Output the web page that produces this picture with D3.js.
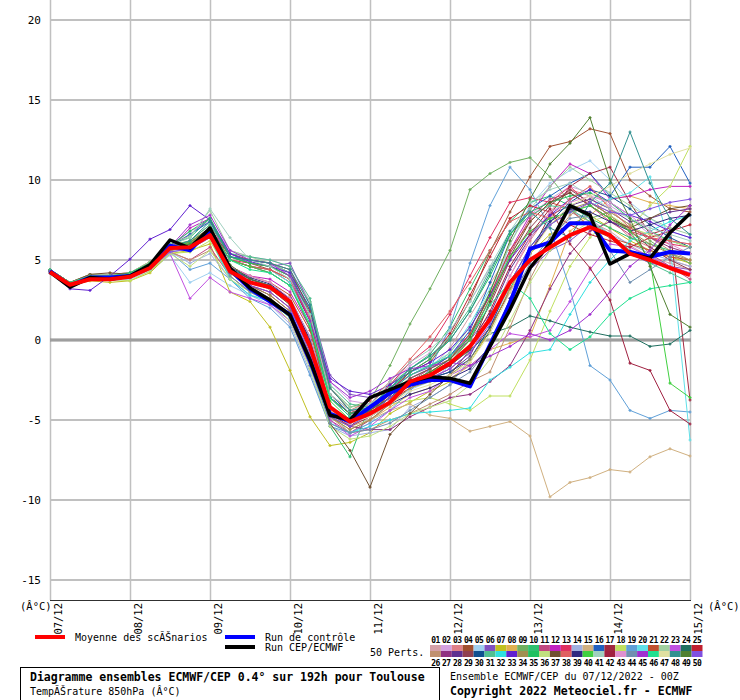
<!DOCTYPE html>
<html><head><meta charset="utf-8">
<script src="https://cdn.jsdelivr.net/npm/d3@7"></script>
<style>
html,body{margin:0;padding:0;background:#fff;}
svg{display:block;}
text{font-family:"DejaVu Sans Mono","Liberation Mono",monospace;fill:#000;}
</style></head><body>
<svg id="chart" width="740" height="700"></svg>
<script>
// ---------- DATA ----------
const hours = [0,6,12,18,24,30,36,42,48,54,60,66,72,78,84,90,96,102,108,114,120,126,132,138,144,150,156,162,168,174,180,186,192];
const dayLabels = ["07/12","08/12","09/12","10/12","11/12","12/12","13/12","14/12","15/12"];
const dayHours = [0,24,48,72,96,120,144,168,192];
const yTicks = [20,15,10,5,0,-5,-10,-15];

const meanValues    = [4.25,3.45,3.8,3.8,3.95,4.5,5.75,5.8,6.55, 4.3,3.6,3.3,2.4, -0.4,-4.2,-5.1,-4.6,-3.9,-2.6,-2.2,-1.45,-0.4,1.3,3.6,5.0,5.8,6.55,7.05,6.55,5.4,5.0,4.5,4.05];
const controlValues = [4.3,3.4,3.9,3.9,4.0,4.6,5.9,5.6,6.9, 4.4,3.2,2.4,1.6, -1.3,-4.6,-5.1,-4.2,-3.3,-2.8,-2.5,-2.5,-2.9,-0.3,2.3,5.7,6.1,7.3,7.3,5.6,5.5,5.2,5.5,5.4];
const hresValues    = [4.25,3.3,3.9,3.8,4.0,4.7,6.25,5.75,7.0, 4.5,3.25,2.5,1.55, -1.25,-4.7,-5.0,-3.6,-3.1,-2.6,-2.3,-2.4,-2.7,-0.4,1.9,4.5,6.05,8.4,7.8,4.75,5.4,5.1,6.7,7.9];

const member01 = [4.2,3.6,4.0,3.9,4.1,4.8,5.9,6.2,7.0, 5.0,4.6,4.4,3.8,1.4, -3.4,-4.4,-4.8,-3.5,-2.4,-1.8,-0.5,1.5,3.5,5.5,6.8,7.6,8.0,7.4,6.8,5.9,5.2,4.8,4.4];
const member02 = [4.3,3.4,3.8,3.9,4.0,4.5,5.8,6.8,7.4, 5.6,5.2,5.0,4.6,2.4, -2.6,-3.8,-4.0,-2.8,-1.6,-0.8,0.5,2.4,4.5,6.4,7.8,8.8,9.6,9.2,8.4,7.6,6.6,6.2,6.0];
const member03 = [4.4,3.5,3.9,4.0,4.1,4.7,5.6,5.9,6.8, 4.6,3.6,3.2,2.2,-0.6, -4.3,-5.2,-4.6,-3.8,-2.8,-2.3,-1.6,-0.6,1.2,4.0,6.2,8.0,9.4,9.0,7.6,6.4,5.8,5.0,4.6];
const member04 = [4.3,3.6,4.1,4.1,4.2,4.9,5.8,6.0,7.0, 5.2,4.8,4.4,3.6,1.2, -3.6,-4.6,-4.2,-3.2,-2.0,-1.4,0.2,2.5,5.5,8.0,10.2,12.1,12.4,13.2,12.9,10.0,9.0,8.2,8.0];
const member05 = [4.2,3.3,3.8,3.7,3.8,4.3,5.3,3.6,4.2, 3.4,2.8,2.5,1.4,-1.2, -4.6,-5.8,-5.2,-3.9,-3.1,-2.6,-1.6,0.4,2.4,6.0,8.4,9.8,10.6,11.2,10.0,8.6,7.6,6.8,6.4];
const member06 = [4.2,3.5,3.9,3.9,4.1,4.8,5.9,6.6,7.6, 5.4,4.8,4.6,4.8,2.2, -2.2,-3.4,-3.6,-3.0,-2.2,-1.7,-1.0,0.0,1.6,3.2,4.4,5.6,6.2,7.2,6.6,5.4,4.8,4.6,4.4];
const member07 = [4.3,3.4,3.7,3.6,3.7,4.2,5.4,5.6,6.0, 3.0,2.4,0.8,-1.9,-4.8, -6.6,-6.4,-5.8,-4.6,-3.9,-3.2,-2.6,-1.4,0.6,3.2,5.4,6.6,7.2,7.8,7.0,6.2,5.6,5.2,4.8];
const member08 = [4.3,3.6,4.0,4.0,4.1,4.6,5.6,5.9,6.9, 4.2,3.2,2.6,1.6,-0.8, -4.8,-5.6,-5.0,-4.2,-3.4,-3.0,-2.4,-1.6,-0.6,-0.2,0.2,3.4,6.8,7.8,8.8,9.0,8.6,8.4,8.2];
const member09 = [4.3,3.5,3.9,4.0,4.1,4.7,5.9,6.2,7.2, 5.2,5.0,4.8,4.2,2.0, -3.0,-4.2,-3.8,-1.6,1.0,3.2,5.6,9.4,10.4,11.1,11.4,10.2,8.6,7.6,8.0,7.2,6.2,5.4,4.8];
const member10 = [4.4,3.6,4.0,4.0,4.2,4.8,6.0,6.4,7.6, 5.2,4.8,4.6,4.0,1.8, -5.4,-7.3,-4.0,-2.8,-1.8,-0.9,0.8,3.2,5.6,7.4,8.6,9.0,8.4,7.6,7.0,6.4,6.0,5.6,5.4];
const member11 = [4.2,3.4,3.8,3.8,3.9,4.5,5.5,5.0,5.8, 4.0,3.0,2.4,1.2,-1.6, -5.0,-5.8,-5.0,-4.0,-2.6,-1.8,-1.0,0.2,2.6,5.4,7.6,8.8,9.2,8.4,7.4,6.6,5.4,4.6,3.8];
const member12 = [4.3,3.5,3.9,3.9,4.0,4.6,5.7,7.0,7.6, 4.6,4.0,3.8,3.0,0.8, -4.2,-5.0,-4.4,-3.2,-2.2,-1.6,-1.0,0.4,2.8,5.6,7.8,9.6,11.0,10.4,8.8,9.0,9.4,9.6,9.6];
const member13 = [4.4,3.6,4.0,4.1,4.2,4.8,5.9,6.1,7.0, 5.0,4.8,4.6,4.0,1.6, -3.6,-4.6,-4.0,-2.8,-1.4,-0.4,1.6,4.0,6.4,8.6,8.9,8.6,9.6,8.4,7.6,6.8,6.4,6.0,5.8];
const member14 = [4.2,3.4,3.8,3.8,3.9,4.4,5.5,4.8,5.4, 3.8,2.8,2.2,1.0,-2.0, -5.4,-6.0,-5.8,-5.6,-4.2,-3.6,-2.8,-1.2,0.8,3.4,5.6,7.2,8.0,7.6,6.6,6.0,5.4,5.0,4.6];
const member15 = [4.3,3.5,3.9,3.9,4.0,4.5,5.6,5.9,6.6, 4.4,3.6,3.2,2.4,-0.4, -4.6,-5.4,-5.0,-4.4,-4.0,-4.7,-4.9,-5.7,-5.4,-5.1,-6.0,-9.8,-8.9,-8.6,-8.1,-8.25,-7.3,-6.8,-7.25];
const member16 = [4.3,3.5,3.9,3.9,4.1,4.7,5.8,6.6,7.4, 5.2,5.0,4.8,4.2,2.0, -3.4,-4.6,-4.4,-3.4,-2.4,-1.8,-1.0,0.6,3.6,6.6,8.2,9.0,9.8,10.4,9.0,10.8,10.8,12.1,9.8];
const member17 = [4.3,3.5,3.9,3.9,4.0,4.6,5.7,6.0,6.8, 4.2,3.4,2.8,1.8,-1.0, -4.8,-5.4,-4.8,-3.8,-3.0,-2.4,-1.8,-0.8,0.8,3.0,5.4,7.8,9.6,10.4,10.8,8.6,6.6,7.0,-3.75];
const member18 = [4.2,3.4,3.8,3.8,3.7,4.3,5.4,5.5,6.2, 4.0,3.0,2.6,1.6,-1.0, -4.8,-5.4,-4.6,-4.0,-3.8,-3.6,-4.0,-4.4,-3.5,-3.5,-1.25,1.8,4.6,6.4,7.6,7.0,8.4,9.6,12.1];
const member19 = [4.3,3.4,3.8,3.8,3.9,4.4,5.5,4.4,4.8, 3.8,2.6,2.0,0.8,-2.2, -5.4,-5.8,-5.2,-4.4,-3.2,-1.8,0.8,4.8,8.4,10.8,9.4,7.0,3.2,-1.6,-2.5,-4.4,-4.9,-4.4,-4.5];
const member20 = [4.4,3.6,4.0,4.0,4.2,4.8,5.8,6.0,6.9, 5.0,4.6,4.4,3.6,1.0, -3.6,-4.8,-4.2,-3.0,-2.0,-1.6,-0.8,1.0,3.2,5.2,6.6,7.6,8.0,8.4,8.8,9.2,10.2,6.0,-6.25];
const member21 = [4.3,3.5,3.9,3.9,4.0,4.6,5.7,5.9,6.6, 4.6,4.0,3.6,2.8,0.6, -4.2,-5.0,-4.6,-3.6,-2.6,-2.0,-1.2,0.4,2.8,5.6,7.4,8.6,8.2,7.0,6.4,6.0,5.6,5.2,5.0];
const member22 = [4.4,3.6,4.1,4.1,4.2,4.9,6.0,6.5,8.1, 5.6,5.2,4.8,4.2,2.4, -3.0,-4.2,-4.0,-3.2,-2.4,-1.8,-0.8,0.8,3.0,6.0,8.2,9.6,10.8,10.0,9.2,8.4,7.6,7.0,6.6];
const member23 = [4.2,3.4,3.8,3.8,3.9,4.4,5.4,2.6,3.9, 3.0,2.6,2.2,1.2,-1.6, -5.0,-6.0,-5.4,-4.4,-3.6,-3.2,-2.2,-1.6,-0.6,0.4,0.2,0.6,2.4,4.4,6.0,5.8,5.2,4.6,4.2];
const member24 = [4.3,3.5,3.9,3.9,4.0,4.6,5.7,5.9,6.7, 4.5,3.8,3.4,2.4,0.0, -4.2,-5.2,-4.6,-3.6,-2.6,-2.2,-1.6,-0.6,0.4,0.8,1.5,1.2,0.8,0.5,0.25,0.25,-0.4,-0.25,0.6];
const member25 = [4.3,3.5,3.9,3.9,4.1,4.7,5.8,6.1,7.0, 5.0,4.6,4.4,3.8,1.2, -3.6,-4.6,-4.2,-3.2,-2.0,-1.2,0.4,2.8,5.2,7.6,8.4,8.0,7.2,6.6,6.2,5.8,6.4,6.8,7.2];
const member26 = [4.2,3.4,3.8,3.8,3.9,4.5,5.5,5.0,5.6, 4.2,3.2,2.6,1.6,-1.2, -4.8,-5.8,-5.6,-5.0,-4.6,-4.0,-3.4,-2.6,-2.0,0.8,3.8,6.2,7.8,8.6,8.0,7.2,6.4,5.6,5.0];
const member27 = [4.3,3.5,3.9,3.9,4.0,4.6,5.6,5.8,6.6, 4.4,3.8,3.4,2.6,-0.2, -4.2,-5.4,-5.6,-5.6,-4.8,-4.2,-3.6,-3.4,-2.6,-1.6,0.6,3.2,5.4,6.8,7.4,7.0,6.4,5.8,5.4];
const member28 = [4.3,3.5,3.9,3.9,4.1,4.7,5.8,6.0,6.8, 5.0,4.6,4.2,3.4,0.8, -3.6,-4.8,-4.4,-3.4,-2.6,-2.4,-2.0,-1.0,1.6,4.4,6.4,7.8,8.4,8.8,8.2,7.4,7.6,8.0,8.2];
const member29 = [4.4,3.6,4.0,4.0,4.1,4.7,5.7,5.9,6.7, 5.4,5.0,4.8,4.4,1.8, -3.0,-4.4,-4.6,-3.4,-2.4,-1.8,-1.2,0.0,2.2,5.0,7.0,8.4,9.4,8.6,7.8,6.8,5.8,5.0,4.4];
const member30 = [4.3,3.5,3.9,3.9,4.0,4.6,5.7,5.9,6.7, 4.6,3.8,3.4,2.6,0.2, -4.2,-5.0,-4.6,-3.6,-2.8,-2.4,-2.0,-1.2,0.8,3.6,5.8,7.4,8.6,9.4,9.0,8.2,7.2,6.4,5.8];
const member31 = [4.3,3.5,3.9,4.0,4.1,4.7,5.8,6.2,7.2, 5.4,5.2,5.0,4.6,2.6, -2.8,-4.0,-4.2,-3.0,-1.8,-1.0,0.2,2.0,4.4,6.6,7.8,8.4,8.2,7.4,6.6,5.6,4.8,4.2,3.6];
const member32 = [4.2,3.4,3.8,3.8,3.9,4.4,5.5,5.7,6.4, 3.8,2.8,2.4,1.4,-1.4, -5.2,-5.8,-5.4,-5.0,-4.6,-4.5,-4.4,-4.25,-2.5,-1.7,-0.8,-0.6,1.6,3.6,5.0,6.2,6.8,7.4,7.8];
const member33 = [4.2,3.2,3.1,4.0,5.05,6.3,6.9,8.4,7.5, 5.4,4.9,4.6,4.2,1.6, -2.4,-3.2,-3.4,-2.8,-2.0,-1.4,-0.6,0.8,2.8,5.0,6.6,7.8,8.8,9.4,8.6,7.8,7.4,6.8,6.4];
const member34 = [4.3,3.5,3.9,3.9,4.0,4.6,5.6,5.8,6.5, 4.2,3.4,2.8,1.8,-1.0, -4.8,-5.6,-5.0,-4.0,-3.0,-2.6,-2.2,-1.2,0.6,3.2,5.6,7.2,8.2,8.6,7.8,6.8,6.0,5.4,5.0];
const member35 = [4.4,3.6,4.0,4.0,4.2,4.8,5.9,6.8,7.6, 5.2,4.8,4.6,4.0,1.6, -3.6,-4.6,-4.2,-3.0,-2.0,-1.2,0.0,1.8,4.0,6.6,8.0,8.6,9.0,9.2,8.6,7.6,6.8,6.2,5.8];
const member36 = [4.2,3.4,3.8,3.8,3.9,4.4,5.4,4.6,5.6, 3.8,3.0,2.4,1.2,-1.8, -5.4,-6.2,-6.0,-5.4,-4.6,-4.2,-3.8,-2.8,-1.2,1.2,3.6,5.6,6.6,7.4,7.8,7.0,6.6,6.2,5.8];
const member37 = [4.3,3.6,4.1,4.2,4.1,4.6,5.7,5.9,6.6, 4.5,3.6,3.2,2.2,-0.6, -5.2,-6.9,-9.2,-5.9,-4.6,-3.4,-2.2,-0.6,2.4,5.2,7.4,8.6,9.2,8.4,7.6,7.0,7.6,8.2,8.4];
const member38 = [4.4,3.6,4.0,4.0,4.1,4.7,5.8,6.0,6.9, 5.0,4.6,4.4,3.8,1.4, -3.4,-4.4,-3.8,-2.6,-1.2,0.2,1.8,3.6,5.6,7.4,8.0,7.6,8.8,9.6,8.2,7.0,6.4,6.2,6.0];
const member39 = [4.3,3.5,3.9,3.9,4.0,4.6,5.7,5.9,6.7, 4.6,3.9,3.5,2.6,0.0, -4.2,-5.0,-4.8,-4.0,-3.4,-3.0,-2.4,-1.8,-0.4,2.6,5.4,7.4,8.2,8.0,7.4,6.8,7.2,7.6,7.8];
const member40 = [4.3,3.5,3.9,3.9,4.0,4.6,5.8,6.1,7.0, 5.0,4.6,4.2,3.4,0.8, -3.8,-5.0,-4.6,-3.6,-2.6,-2.0,-1.4,0.0,2.6,5.2,6.8,7.6,8.0,8.4,7.6,6.8,5.0,-2.7,-3.6];
const member41 = [4.3,3.5,3.9,3.9,4.1,4.7,5.9,6.4,8.2, 6.4,5.0,4.6,3.8,1.6, -3.4,-4.4,-4.0,-2.6,-1.4,-0.6,0.6,2.4,4.6,6.8,8.6,9.4,9.8,9.0,8.2,7.6,7.0,6.6,6.2];
const member42 = [4.3,3.5,3.9,3.9,4.0,4.6,5.7,5.9,6.7, 4.2,3.4,3.0,2.0,-0.6, -4.6,-5.4,-4.4,-3.6,-2.8,-2.2,-1.6,-0.4,1.8,4.6,6.6,8.2,6.0,4.5,2.5,-1.45,-1.9,-4.4,-5.25];
const member43 = [4.2,3.4,3.8,3.8,3.9,4.5,5.5,5.7,6.4, 4.6,4.0,3.6,2.6,0.2, -4.2,-5.2,-4.8,-3.8,-2.8,-2.4,-1.8,-0.8,1.2,4.0,6.4,8.0,8.6,9.0,8.6,7.8,6.8,6.0,5.4];
const member44 = [4.3,3.5,3.9,3.9,4.0,4.6,5.7,5.9,6.6, 4.0,3.0,2.4,1.4,-1.6, -5.2,-5.8,-5.6,-5.2,-4.4,-3.6,-2.8,-2.0,-0.4,2.4,4.8,6.4,7.6,7.8,5.6,3.6,4.4,5.2,5.8];
const member45 = [4.3,3.5,3.9,3.9,4.0,4.6,5.8,7.2,7.8, 5.6,5.0,4.8,4.0,1.2, -2.6,-3.6,-3.2,-2.4,-1.8,-1.6,-1.4,-1.6,-1.0,-0.4,0.4,0.0,0.6,1.6,3.0,4.6,5.6,7.2,8.4];
const member46 = [4.4,3.6,4.0,4.0,4.1,4.7,5.8,6.0,6.8, 5.0,4.4,4.2,3.4,1.0, -3.6,-4.8,-4.2,-3.2,-2.2,-1.6,-1.0,0.2,2.2,3.6,2.6,0.4,-0.6,0.2,1.6,2.6,3.2,3.4,3.6];
const member47 = [4.3,3.5,3.9,3.9,4.0,4.6,5.7,5.9,6.6, 4.4,3.6,3.2,2.4,-0.4, -4.4,-5.2,-4.8,-4.0,-3.2,-2.8,-2.2,-1.4,0.4,3.0,5.4,7.2,8.4,9.0,9.6,10.4,11.0,11.6,12.0];
const member48 = [4.3,3.5,3.9,3.9,4.0,4.6,5.8,6.2,7.4, 5.2,5.0,4.8,4.4,2.2, -3.0,-4.4,-4.2,-3.0,-1.8,-1.0,0.0,1.8,4.2,6.8,8.0,7.0,6.4,8.6,9.8,13.0,9.8,7.6,6.6];
const member49 = [4.3,3.5,3.9,3.9,4.0,4.6,5.7,6.0,6.8, 4.7,3.8,3.4,2.4,-0.2, -4.2,-5.0,-4.4,-3.6,-2.6,-2.0,-1.2,0.2,3.0,6.2,8.8,11.0,12.3,13.9,10.0,7.6,4.6,1.6,0.8];
const member50 = [4.3,3.4,3.8,3.8,3.9,4.5,5.5,5.7,6.4, 4.2,3.4,3.0,2.0,-0.8, -4.8,-5.4,-4.6,-3.6,-2.8,-2.4,-1.8,-0.8,1.0,3.6,5.8,7.2,8.0,8.6,8.0,7.8,8.2,8.6,8.8];

const members = [member01,member02,member03,member04,member05,member06,member07,member08,member09,member10,
  member11,member12,member13,member14,member15,member16,member17,member18,member19,member20,
  member21,member22,member23,member24,member25,member26,member27,member28,member29,member30,
  member31,member32,member33,member34,member35,member36,member37,member38,member39,member40,
  member41,member42,member43,member44,member45,member46,member47,member48,member49,member50];

const memberColors = ["#d4a0a8","#d4a0e0","#e08088","#a05030","#a0d0f0","#8050c0","#c0c020","#e0b050","#70b060","#30c070",
  "#c04880","#c020c0","#e03060","#a0b0e0","#d0b080","#2060c0","#a02840","#c0e060","#60a0d8","#60e0e8",
  "#c05030","#a0d0a0","#c050e0","#207060","#c02030","#c09070","#903080","#603090","#904050","#105090",
  "#50c090","#30e0e0","#6020d0","#a09050","#20c060","#c0e080","#705030","#e06060","#302880","#40d040",
  "#a0d0c0","#a02040","#e090d0","#7090b0","#a030d0","#20e090","#e0e0a0","#309090","#508030","#8050e0"];
const memberNumbers = ["01","02","03","04","05","06","07","08","09","10","11","12","13","14","15","16","17","18","19","20","21","22","23","24","25",
  "26","27","28","29","30","31","32","33","34","35","36","37","38","39","40","41","42","43","44","45","46","47","48","49","50"];

// ---------- DRAW ----------
const svg = d3.select("#chart");
const x = d3.scaleLinear().domain([0,192]).range([50,690]);
const y = d3.scaleLinear().domain([-16.25,21.25]).range([600,0]);

// grid
const grid = svg.append("g");
grid.selectAll("line.v").data(dayHours).join("line")
  .attr("x1",d=>x(d)+0.5).attr("x2",d=>x(d)+0.5).attr("y1",0).attr("y2",600)
  .attr("stroke","#c0c0c0").attr("stroke-width",1.5);
grid.selectAll("line.h").data(yTicks.filter(d=>d!==0)).join("line")
  .attr("x1",x(0)).attr("x2",x(192)+1).attr("y1",d=>y(d)).attr("y2",d=>y(d))
  .attr("stroke","#c0c0c0").attr("stroke-width",2);
grid.append("line").attr("x1",x(0)).attr("x2",x(192)+1).attr("y1",y(0)).attr("y2",y(0))
  .attr("stroke","#8c8c8c").attr("stroke-width",3);
grid.append("line").attr("x1",x(0)).attr("x2",x(192)+1).attr("y1",y(0)).attr("y2",y(0))
  .attr("stroke","#b0b0b0").attr("stroke-width",1);
svg.append("line").attr("x1",x(0)).attr("x2",x(192)+1).attr("y1",600.5).attr("y2",600.5)
  .attr("stroke","#303030").attr("stroke-width",1);

// y labels
svg.selectAll("text.yl").data(yTicks).join("text")
  .attr("x",41).attr("y",d=>y(d)).attr("text-anchor","end").attr("dominant-baseline","central")
  .attr("font-size",11).text(d=>d);
svg.append("text").attr("x",20).attr("y",606).attr("dominant-baseline","central").attr("font-size",10.5).text("(Â°C)");
svg.append("text").attr("x",708).attr("y",606).attr("dominant-baseline","central").attr("font-size",10.5).text("(Â°C)");

// x labels
svg.selectAll("text.xl").data(dayHours).join("text")
  .attr("transform",d=>`translate(${x(d)+12},603) rotate(-90)`)
  .attr("text-anchor","end").attr("font-size",10.5).text((d,i)=>dayLabels[i]);

// members
const line = d3.line().x((d,i)=>x(hours[i])).y(d=>y(d));
const mg = svg.append("g");
members.forEach((vals,k)=>{
  mg.append("path").attr("d",line(vals)).attr("fill","none")
    .attr("stroke",memberColors[k]).attr("stroke-width",1);
  const mk = vals.map((v,i)=>{const px=x(hours[i]), py=y(v); return `M${px-1.5},${py}h3M${px},${py-1.5}v3`;}).join("");
  mg.append("path").attr("d",mk).attr("stroke",memberColors[k]).attr("stroke-width",1.2).attr("fill","none");
});

svg.append("path").attr("d",line(controlValues)).attr("fill","none").attr("stroke","#0000ff").attr("stroke-width",4).attr("stroke-linejoin","round");
svg.append("path").attr("d",line(hresValues)).attr("fill","none").attr("stroke","#000").attr("stroke-width",3.5).attr("stroke-linejoin","round");
svg.append("path").attr("d",line(meanValues)).attr("fill","none").attr("stroke","#ff0000").attr("stroke-width",4).attr("stroke-linejoin","round");

// legend
svg.append("rect").attr("x",35).attr("y",635).attr("width",30).attr("height",4).attr("fill","#ff0000");
svg.append("text").attr("x",75).attr("y",637.5).attr("dominant-baseline","central").attr("font-size",10).text("Moyenne des scĂŠnarios");
svg.append("rect").attr("x",225).attr("y",635).attr("width",30).attr("height",4).attr("fill","#0000ff");
svg.append("text").attr("x",265).attr("y",637.5).attr("dominant-baseline","central").attr("font-size",10).text("Run de contrôle");
svg.append("rect").attr("x",225).attr("y",645).attr("width",30).attr("height",4).attr("fill","#000");
svg.append("text").attr("x",265).attr("y",647.5).attr("dominant-baseline","central").attr("font-size",10).text("Run CEP/ECMWF");

svg.append("text").attr("x",370).attr("y",652).attr("dominant-baseline","central").attr("font-size",10).text("50 Perts.");
const pg = svg.append("g");
members.forEach((vals,k)=>{
  const col = k%25, row = Math.floor(k/25);
  const cx = 430 + col*10.9;
  pg.append("rect").attr("x",cx).attr("y",645+row*6).attr("width",10.9).attr("height",6).attr("fill",memberColors[k]);
  pg.append("text").attr("x",cx+5.4).attr("y",row===0?640:663).attr("text-anchor","middle")
    .attr("dominant-baseline","central").attr("font-size",8).attr("font-weight","bold").attr("letter-spacing",-0.6)
    .text(memberNumbers[k]);
});

// footer
svg.append("rect").attr("x",20.5).attr("y",667.5).attr("width",419).attr("height",40).attr("fill","none").attr("stroke","#000").attr("stroke-width",1);
svg.append("text").attr("x",30).attr("y",677).attr("dominant-baseline","central").attr("font-size",11.5).attr("font-weight","bold")
  .text("Diagramme ensembles ECMWF/CEP 0.4° sur 192h pour Toulouse");
svg.append("text").attr("x",30).attr("y",691).attr("dominant-baseline","central").attr("font-size",10).text("TempĂŠrature 850hPa (Â°C)");
svg.append("text").attr("x",450).attr("y",676).attr("dominant-baseline","central").attr("font-size",10).text("Ensemble ECMWF/CEP du 07/12/2022 - 00Z");
svg.append("text").attr("x",450).attr("y",691).attr("dominant-baseline","central").attr("font-size",11.5).attr("font-weight","bold").text("Copyright 2022 Meteociel.fr - ECMWF");
</script>
</body></html>
